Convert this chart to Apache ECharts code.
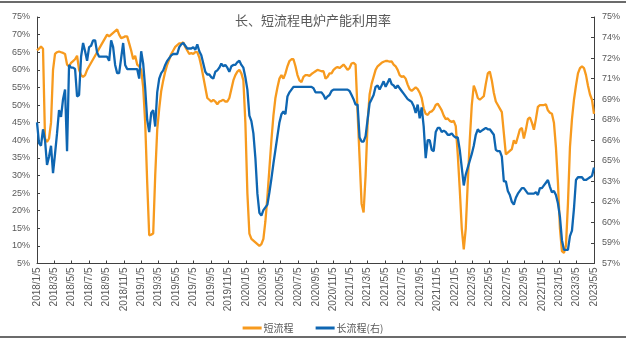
<!DOCTYPE html>
<html>
<head>
<meta charset="utf-8">
<script src="https://cdn.jsdelivr.net/npm/echarts@6/dist/echarts.min.js"></script>
<style>
  html, body { margin: 0; padding: 0; background: #ffffff; }
  #chart { width: 626px; height: 342px; }
</style>
</head>
<body>
<div id="chart"></div>
<script>
// Weekly EAF capacity utilisation, first week 2018/1/5
const startDate = '2018/1/5';
const weekCount = 279;

// Short-process (scrap EAF) utilisation, % (left axis)
const shortProcess = [
  65.5, 66, 66.6, 66, 40.5, 39.5, 40.5, 45, 60, 64.5,
  65, 65.2, 65, 64.8, 64.5, 61.5, 61, 62, 62.5, 63,
  64, 60, 58.5, 58, 58.5, 60, 61, 62, 63, 64,
  65, 66, 67, 68, 69, 70, 69.5, 70, 70.5, 71,
  71.5, 70, 69, 69.2, 69.5, 69.5, 67.5, 65.5, 63, 64,
  61.5, 61, 60, 55, 45, 28, 13, 13.2, 13.5, 30,
  43, 49, 54, 57, 59.5, 61.5, 63, 64.5, 65.5, 66.5,
  67, 67.5, 67.5, 67.8, 66.5, 65.5, 64.5, 64.8, 64.5, 65,
  65, 63.5, 61, 58, 55, 52, 51.5, 51, 51.5, 51,
  50.2, 51, 51.2, 51.5, 51, 51, 52, 54.5, 57, 58.5,
  59.5, 60, 59, 57, 45, 25, 13.5, 12, 11.5, 11,
  10.5, 10, 10.5, 12, 17, 24, 32, 40, 47, 52,
  55, 57.5, 58.5, 57.5, 59, 61, 62.5, 63, 63, 61,
  58.5, 57, 56.5, 58, 58.5, 58.5, 58.3, 58.8, 59.2, 59.6,
  60, 59.8, 59.6, 59.6, 57.5, 58, 59, 59, 60, 60.5,
  60.8, 60.5, 61, 61.5, 60.8, 60, 60.5, 61.8, 62, 61.5,
  48, 35, 22, 19.5, 30, 45, 53, 56, 58, 60,
  61, 61.5, 62, 62.3, 62.5, 62.5, 62.3, 62.4, 61.5, 61,
  60, 58.5, 58, 58.2, 57.5, 55.8, 54.5, 54, 54.5, 55,
  54.5, 53.5, 52, 49, 47.5, 47.2, 48, 48.2, 48.8, 50,
  50.4, 49.5, 48.5, 47, 46, 46.2, 45.5, 45.2, 45.5, 44,
  36, 26, 15, 9, 15, 28, 40, 50, 55.5, 54,
  52, 51.5, 52, 52.5, 56, 59, 59.5, 57, 53.5, 51,
  50, 49, 48, 42, 36, 36.5, 37, 37.5, 40, 39,
  41, 43, 43.5, 40.5, 43, 46, 46.5, 45, 43, 46,
  49.5, 50, 50, 50, 50.2, 48.5, 47.8, 47.5, 45, 38,
  28, 15, 8.5, 8, 10, 22, 38, 46, 51.5, 55.5,
  59, 60.5, 61, 60.5, 58.5, 55.5, 53, 51.5, 47.5
];

// Long-process (BF-BOF plant EAF) utilisation, % (right axis)
const longProcess = [
  67.3, 65.8, 65.6, 66.8, 66.0, 64.2, 64.8, 65.6, 63.6, 65.0,
  66.5, 68.2, 67.7, 69.0, 69.7, 65.2, 71.5, 71.3, 71.3, 71.2,
  69.2, 69.3, 72.1, 73.1, 72.5, 71.8, 72.8, 72.9, 73.3, 73.3,
  72.4, 72.1, 72.1, 72.1, 72.1, 72.1, 71.8, 73.3, 72.8, 71.5,
  70.9, 70.9, 72.0, 73.1, 71.5, 71.2, 71.2, 71.2, 71.2, 71.2,
  71.2, 70.5, 72.5, 71.6, 69.8, 67.5, 66.6, 68.0, 68.2, 67.0,
  69.5, 70.5, 70.9, 71.1, 71.5, 71.8, 72.0, 72.2, 72.3, 72.3,
  72.3, 72.8, 73.0, 73.1, 72.9, 72.7, 72.7, 72.7, 72.8, 72.6,
  73.0, 72.5, 72.2, 71.6, 71.0, 70.8, 70.8, 70.6, 70.5, 71.0,
  71.1, 71.3, 71.6, 71.4, 71.5, 71.3, 71.0, 71.4, 71.5, 71.5,
  71.7, 71.8, 71.5, 71.3, 70.6, 69.7, 67.8, 67.4, 66.5, 64.7,
  62.1, 60.7, 60.5, 60.9, 61.1, 61.3, 62.2, 63.2, 64.3, 65.3,
  66.3, 67.3, 67.9, 68.1, 67.9, 69.2, 69.5, 69.7, 69.9, 69.9,
  69.9, 69.9, 69.9, 69.9, 69.9, 69.9, 69.9, 69.9, 69.8, 69.5,
  69.5, 69.5, 69.5, 69.3, 69.0, 69.2, 69.3, 69.6, 69.7, 69.7,
  69.7, 69.7, 69.7, 69.7, 69.7, 69.7, 69.6, 69.3, 69.0, 68.6,
  68.6, 66.2, 65.9, 65.9, 66.3, 67.5, 68.7, 69.0, 69.3, 69.9,
  70.0, 69.7, 70.0, 70.3, 69.9, 70.2, 70.5, 70.1, 70.0, 69.8,
  70.0, 69.8, 69.6, 69.4, 69.2, 69.0, 68.9, 68.8, 68.5, 68.0,
  68.6, 67.6, 68.4, 67.0, 64.7, 66.0, 66.0, 65.3, 65.2, 66.6,
  66.9, 66.9, 66.6, 66.7, 66.6, 66.4, 66.4, 66.5, 66.3, 66.2,
  66.2, 65.3, 64.0, 62.7, 63.5, 64.0, 64.5, 65.0, 65.6, 66.4,
  66.8, 66.6, 66.7, 66.8, 66.9, 66.8, 66.8, 66.6, 66.4, 65.3,
  65.2, 65.2, 64.8, 63.0, 63.0, 62.3, 62.0, 61.5, 61.3, 61.8,
  62.1, 62.3, 62.5, 62.5, 62.3, 62.1, 62.1, 62.1, 62.1, 62.2,
  62.0, 62.5, 62.5, 62.7, 62.9, 63.1, 62.6, 62.2, 62.3, 62.0,
  61.4, 60.4, 58.7, 58.0, 58.0, 58.0, 59.0, 59.4, 61.0, 63.1,
  63.3, 63.3, 63.3, 63.1, 63.1, 63.2, 63.3, 63.4, 64.0
];

// Date labels along the x axis (every two months)
const xTickLabels = [
  '2018/1/5', '2018/3/5', '2018/5/5', '2018/7/5', '2018/9/5', '2018/11/5',
  '2019/1/5', '2019/3/5', '2019/5/5', '2019/7/5', '2019/9/5', '2019/11/5',
  '2020/1/5', '2020/3/5', '2020/5/5', '2020/7/5', '2020/9/5', '2020/11/5',
  '2021/1/5', '2021/3/5', '2021/5/5', '2021/7/5', '2021/9/5', '2021/11/5',
  '2022/1/5', '2022/3/5', '2022/5/5', '2022/7/5', '2022/9/5', '2022/11/5',
  '2023/1/5', '2023/3/5', '2023/5/5'
];

const seriesNames = ['短流程', '长流程(右)'];
const titleText = '长、短流程电炉产能利用率';

function parseDay(s) {
  const p = s.split('/').map(Number);
  return Date.UTC(p[0], p[1] - 1, p[2]);
}
function fmtDay(t) {
  const d = new Date(t);
  return d.getUTCFullYear() + '/' + (d.getUTCMonth() + 1) + '/' + d.getUTCDate();
}

// The x axis is a linear day scale (ms since epoch), labelled at the dates above
const DAY = 86400000;
const t0 = parseDay(startDate);
const weeks = [];
for (let i = 0; i < weekCount; i++) weeks.push(t0 + i * 7 * DAY);

const tickTimes = xTickLabels.map(parseDay);
const shortData = weeks.map((t, i) => [t, shortProcess[i]]);
const longData = weeks.map((t, i) => [t, longProcess[i]]);

const labelColor = '#595959';
const axisColor = '#404040';

const chart = echarts.init(document.getElementById('chart'), null, { renderer: 'canvas' });
chart.setOption({
  animation: false,
  backgroundColor: '#ffffff',
  title: {
    text: titleText,
    left: 'center',
    top: 9,
    textStyle: {
      fontFamily: 'Noto Sans CJK SC',
      fontSize: 13,
      fontWeight: 'normal',
      color: labelColor
    }
  },
  legend: {
    data: seriesNames,
    left: 'center',
    top: 318,
    icon: 'rect',
    itemWidth: 19,
    itemHeight: 3,
    itemGap: 22,
    textStyle: {
      fontFamily: 'Noto Sans CJK SC',
      fontSize: 10,
      color: labelColor,
      padding: [0, 0, 0, -3]
    }
  },
  grid: { left: 37, right: 32, top: 17, bottom: 78.5, containLabel: false },
  xAxis: {
    type: 'value',
    min: tickTimes[0],
    max: tickTimes[tickTimes.length - 1],
    splitLine: { show: false },
    axisLine: { lineStyle: { color: axisColor, width: 1 } },
    axisTick: {
      inside: true,
      length: 3,
      customValues: tickTimes,
      lineStyle: { color: axisColor }
    },
    axisLabel: {
      customValues: tickTimes,
      rotate: 90,
      margin: 4,
      fontFamily: 'Liberation Sans',
      fontSize: 10,
      color: labelColor,
      formatter: v => fmtDay(v)
    }
  },
  yAxis: [
    {
      type: 'value',
      min: 5,
      max: 75,
      interval: 5,
      splitLine: { show: false },
      axisLine: { show: true, lineStyle: { color: axisColor } },
      axisTick: { show: true, inside: true, length: 3, lineStyle: { color: axisColor } },
      axisLabel: {
        margin: 7,
        fontFamily: 'Liberation Sans',
        fontSize: 9,
        color: labelColor,
        formatter: v => v + '%'
      }
    },
    {
      type: 'value',
      min: 57,
      max: 75,
      interval: 1.5,
      position: 'right',
      splitLine: { show: false },
      axisLine: { show: true, lineStyle: { color: axisColor } },
      axisTick: { show: true, inside: true, length: 3, lineStyle: { color: axisColor } },
      axisLabel: {
        margin: 8,
        fontFamily: 'Liberation Sans',
        fontSize: 9,
        color: labelColor,
        formatter: v => Math.round(v + 1e-9) + '%'
      }
    }
  ],
  series: [
    {
      name: seriesNames[0],
      type: 'line',
      yAxisIndex: 0,
      data: shortData,
      showSymbol: false,
      symbol: 'none',
      color: '#F79A1E',
      lineStyle: { width: 2.3, color: '#F79A1E' }
    },
    {
      name: seriesNames[1],
      type: 'line',
      yAxisIndex: 1,
      data: longData,
      showSymbol: false,
      symbol: 'none',
      color: '#0E66B2',
      lineStyle: { width: 2.3, color: '#0E66B2' }
    }
  ],
  graphic: [
    { type: 'rect', shape: { x: 0, y: 1, width: 626, height: 2 }, style: { fill: '#6b6b6b' }, silent: true },
    { type: 'rect', shape: { x: 0, y: 336, width: 626, height: 2 }, style: { fill: '#6b6b6b' }, silent: true }
  ]
});
</script>
</body>
</html>
